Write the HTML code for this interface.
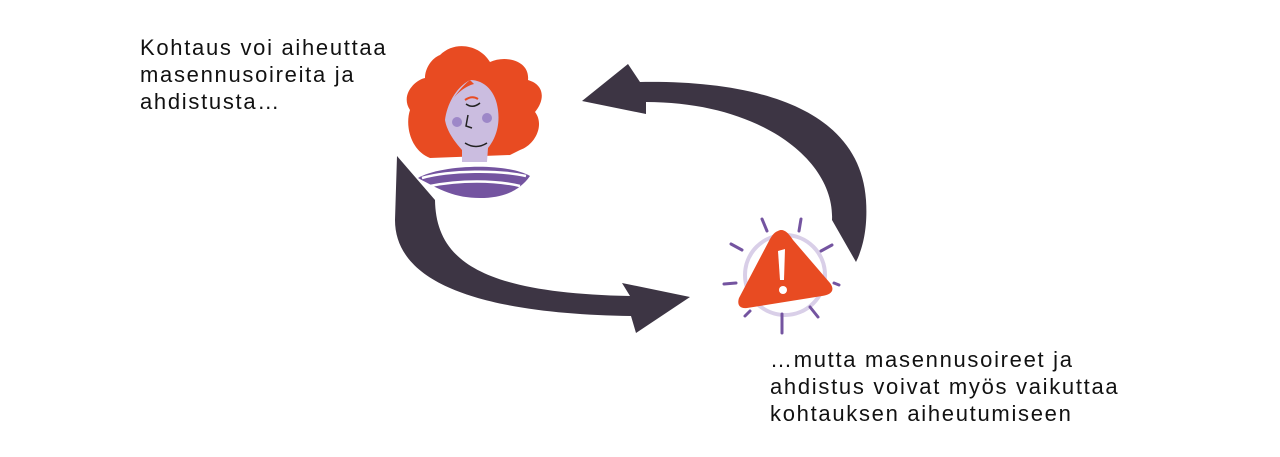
<!DOCTYPE html>
<html><head><meta charset="utf-8"><style>
html,body{margin:0;padding:0;background:#fff;width:1280px;height:457px;overflow:hidden;position:relative}
.t{position:absolute;font-family:"Liberation Sans",sans-serif;font-size:22px;line-height:27px;letter-spacing:1.7px;color:#111}
</style></head><body>
<div class="t" style="left:140px;top:34px">Kohtaus voi aiheuttaa<br>masennusoireita ja<br>ahdistusta…</div>
<div class="t" style="left:770px;top:346px">…mutta masennusoireet ja<br>ahdistus voivat myös vaikuttaa<br>kohtauksen aiheutumiseen</div>
<svg width="1280" height="457" style="position:absolute;left:0;top:0">
<path d="M397,156 L435,200 C436,260 480,293 630,296 L622,283 L690,297 L636,333 L631,316 C500,314 395,290 395,220 Z" fill="#3d3544"/>
<path d="M582,101 L628,64 L640,82 C760,80 860,110 866,200 C868,230 862,250 856,262 L832,220 C835,160 760,102 646,102 L646,114 Z" fill="#3d3544"/>
<path d="M440,55 C455,40 480,45 490,62 C505,55 530,60 528,80 C545,85 545,100 535,112 C545,125 535,145 520,150 L510,155 L430,158 C410,150 405,125 410,110 C400,95 415,80 425,78 C425,68 432,58 440,55 Z" fill="#e84b22"/>
<path d="M470,80 C485,80 496,92 498,110 C500,125 496,138 488,148 L487,162 L462,162 L462,150 C455,142 447,132 445,120 C447,105 455,88 470,80 Z" fill="#cbbde0"/>
<path d="M470,80 C462,86 456,95 452,100 C458,92 466,86 474,84 Z" fill="#e84b22"/>
<circle cx="457" cy="122" r="5" fill="#9d87c8"/><circle cx="487" cy="118" r="5" fill="#9d87c8"/>
<path d="M465,100 Q472,95 478,99" stroke="#e84b22" stroke-width="2" fill="none"/>
<path d="M466,104 Q473,109 480,103" stroke="#222" stroke-width="1.5" fill="none"/>
<path d="M468,115 L466,126 L472,128" stroke="#222" stroke-width="1.5" fill="none"/>
<path d="M465,143 Q476,150 487,143" stroke="#222" stroke-width="1.5" fill="none"/>
<path d="M418,178 C440,165 505,162 530,176 C520,190 505,198 480,198 C455,198 440,190 418,178 Z" fill="#7454a0"/>
<path d="M422,178 C450,170 500,170 526,176 M430,186 C460,180 495,180 520,186" stroke="#fff" stroke-width="2.5" fill="none"/>
<circle cx="785" cy="275" r="40" fill="none" stroke="#d9cfe8" stroke-width="4"/>
<g stroke="#7454a0" stroke-width="3" stroke-linecap="round">
<line x1="762" y1="219" x2="767" y2="231"/><line x1="801" y1="219" x2="799" y2="231"/>
<line x1="731" y1="244" x2="742" y2="250"/><line x1="821" y1="251" x2="832" y2="245"/>
<line x1="724" y1="284" x2="736" y2="283"/><line x1="834" y1="283" x2="839" y2="285"/>
<line x1="745" y1="316" x2="750" y2="311"/><line x1="782" y1="314" x2="782" y2="333"/>
<line x1="810" y1="307" x2="818" y2="317"/>
</g>
<path d="M778,231 C783,228 788,232 793,240 L830,283 C836,291 830,295 822,296 L747,308 C739,309 737,304 739,298 L770,239 C773,234 775,232 778,231 Z" fill="#e84b22"/>
<path d="M778,251 L785,249 L784,280 L780,280 Z" fill="#fff"/>
<circle cx="783" cy="290" r="4" fill="#fff"/>
</svg>
</body></html>
